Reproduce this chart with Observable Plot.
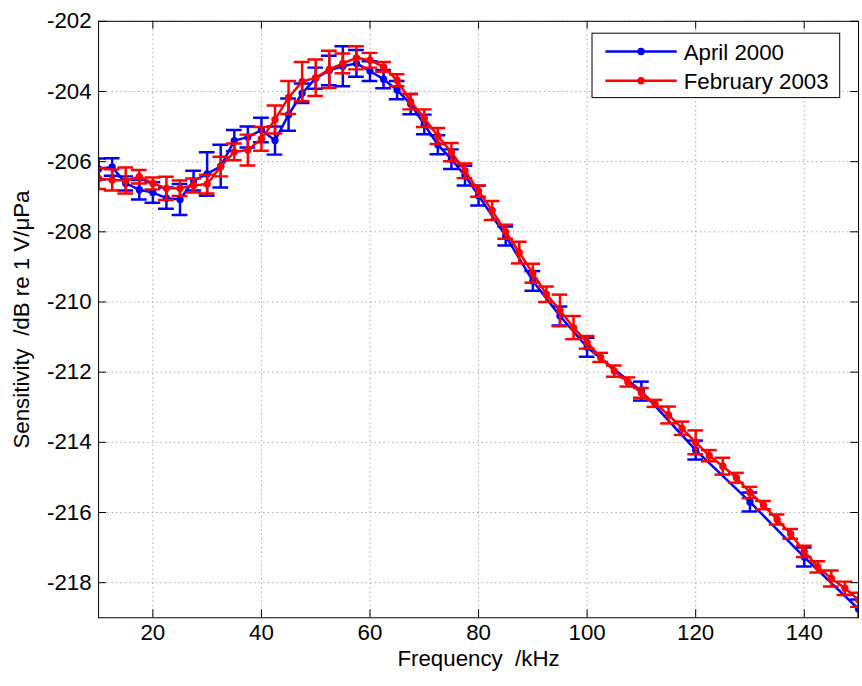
<!DOCTYPE html>
<html><head><meta charset="utf-8">
<script src="https://cdn.jsdelivr.net/npm/d3@7"></script>
<script src="https://cdn.jsdelivr.net/npm/@observablehq/plot@0.6"></script>
<style>
html,body{margin:0;padding:0;background:#fff;overflow:hidden;}
#chart{position:relative;width:862px;height:686px;overflow:hidden;}
#chart svg text{white-space:pre;}
</style></head><body><div id="chart"></div>
<script>
const xTicks = [20, 40, 60, 80, 100, 120, 140];
const yTicks = [-218, -216, -214, -212, -210, -208, -206, -204, -202];

const seriesNames = ["April 2000", "February 2003"];
const seriesColors = ["#0000ff", "#ff0000"];

const freqBlue = [10, 12.5, 15, 17.5, 20, 22.5, 25, 27.5, 30, 32.5, 35, 37.5, 40, 42.5, 45, 47.5, 50, 52.5, 55, 57.5, 60, 62.5, 65, 67.5, 70, 72.5, 75, 77.5, 80, 85, 90, 95, 100, 110, 120, 130, 140, 150];
const blueVals = [-206.21, -206.15, -206.62, -206.8, -206.88, -207.04, -207.08, -206.54, -206.35, -206.13, -205.4, -205.3, -205.1, -205.4, -204.66, -204.05, -203.62, -203.4, -203.28, -203.2, -203.42, -203.65, -203.96, -204.36, -204.94, -205.52, -205.93, -206.4, -206.97, -208.12, -209.4, -210.4, -211.29, -212.54, -214.22, -215.7, -217.27, -218.75];
const blueErr = [0.3, 0.25, 0.2, 0.28, 0.29, 0.3, 0.44, 0.28, 0.62, 0.61, 0.3, 0.3, 0.35, 0.4, 0.46, 0.28, 0.3, 0.42, 0.57, 0.38, 0.28, 0.26, 0.26, 0.29, 0.28, 0.27, 0.28, 0.28, 0.28, 0.27, 0.28, 0.27, 0.27, 0.27, 0.27, 0.27, 0.27, 0.27];

const freqRed = [10, 12.5, 15, 17.5, 20, 22.5, 25, 27.5, 30, 32.5, 35, 37.5, 40, 42.5, 45, 47.5, 50, 52.5, 55, 57.5, 60, 62.5, 65, 67.5, 70, 72.5, 75, 77.5, 80, 82.5, 85, 87.5, 90, 92.5, 95, 97.5, 100, 102.5, 105, 107.5, 110, 112.5, 115, 117.5, 120, 122.5, 125, 127.5, 130, 132.5, 135, 137.5, 140, 142.5, 145, 147.5, 150];
const redVals = [-206.48, -206.52, -206.54, -206.43, -206.62, -206.76, -206.76, -206.68, -206.64, -206.14, -205.72, -205.67, -205.35, -204.8, -204.17, -203.72, -203.61, -203.37, -203.2, -203.04, -203.11, -203.3, -203.68, -204.29, -204.76, -205.27, -205.73, -206.26, -206.84, -207.39, -208.0, -208.59, -209.18, -209.78, -210.24, -210.73, -211.15, -211.58, -211.97, -212.28, -212.59, -212.89, -213.22, -213.6, -214.0, -214.38, -214.68, -215.01, -215.43, -215.79, -216.2, -216.61, -217.11, -217.55, -217.88, -218.16, -218.49];
const redErr = [0.3, 0.3, 0.37, 0.19, 0.17, 0.33, 0.22, 0.2, 0.27, 0.28, 0.24, 0.44, 0.34, 0.4, 0.47, 0.56, 0.52, 0.53, 0.28, 0.33, 0.21, 0.14, 0.17, 0.22, 0.25, 0.23, 0.26, 0.21, 0.16, 0.27, 0.2, 0.31, 0.27, 0.22, 0.45, 0.33, 0.18, 0.13, 0.16, 0.13, 0.14, 0.1, 0.24, 0.19, 0.34, 0.16, 0.24, 0.14, 0.16, 0.12, 0.14, 0.14, 0.16, 0.16, 0.23, 0.19, 0.2];

const FONT = "'Liberation Sans', Arial, Helvetica, sans-serif";
const FS = 22.5;
const W = 870, H = 686, ML = 99, MR = 4, MT = 21, MB = 63;
const innerW = W - ML - MR, innerH = H - MT - MB;
const TICK = 8;
const CAP = 1.45;
const LW = 2.5;

const blue = freqBlue.map((f, i) => ({f, v: blueVals[i], e: blueErr[i]}));
const red = freqRed.map((f, i) => ({f, v: redVals[i], e: redErr[i]}));

function series(data, color) {
  return [
    Plot.ruleX(data, {x: "f", y1: d => d.v - d.e, y2: d => d.v + d.e, stroke: color, strokeWidth: LW, clip: true}),
    Plot.ruleY(data, {y: d => d.v - d.e, x1: d => d.f - CAP, x2: d => d.f + CAP, stroke: color, strokeWidth: LW, clip: true}),
    Plot.ruleY(data, {y: d => d.v + d.e, x1: d => d.f - CAP, x2: d => d.f + CAP, stroke: color, strokeWidth: LW, clip: true}),
    Plot.line(data, {x: "f", y: "v", stroke: color, strokeWidth: LW, clip: true}),
    Plot.dot(data, {x: "f", y: "v", fill: color, stroke: null, r: 3.7, clip: true})
  ];
}

const gridStyle = {stroke: "#a8a8a8", strokeOpacity: 1, strokeWidth: 1, strokeDasharray: "1.5,3"};

const chart = Plot.plot({
  width: W, height: H,
  marginLeft: ML, marginRight: MR, marginTop: MT, marginBottom: MB,
  style: {fontFamily: FONT, fontSize: FS + "px", background: "white", color: "black"},
  x: {domain: [10, 150]},
  y: {domain: [-219, -202]},
  marks: [
    Plot.gridX(xTicks, gridStyle),
    Plot.gridY(yTicks, gridStyle),
    ...series(blue, seriesColors[0]),
    ...series(red, seriesColors[1]),
    Plot.tickY(yTicks, {y: d => d, insetRight: innerW - TICK, stroke: "black"}),
    Plot.tickY(yTicks, {y: d => d, insetLeft: innerW - TICK, stroke: "black"}),
    Plot.tickX(xTicks, {x: d => d, insetTop: innerH - TICK, stroke: "black"}),
    Plot.tickX(xTicks, {x: d => d, insetBottom: innerH - TICK, stroke: "black"}),
    Plot.frame({stroke: "black", strokeWidth: 1}),
    Plot.axisY(yTicks, {tickSize: 0, tickPadding: 7, tickFormat: d => String(d), fontSize: FS, label: null, fill: "black"}),
    Plot.axisX(xTicks, {tickSize: 0, tickPadding: 6, tickFormat: d => String(d), fontSize: FS, label: null, fill: "black"}),
    Plot.text(["Frequency  /kHz"], {text: d => d, frameAnchor: "bottom", dy: 49, textAnchor: "middle", fontSize: FS, fill: "black"}),
    Plot.text(["Sensitivity  /dB re 1 V/\u03bcPa"], {text: d => d, frameAnchor: "left", dx: -77, rotate: -90, textAnchor: "middle", fontSize: FS, fill: "black"})
  ]
});

document.getElementById("chart").appendChild(chart);

// Legend inside the plot area (upper right)
const svg = d3.select(chart);
const lg = svg.append("g").attr("font-family", FONT).attr("font-size", FS).attr("text-anchor", "start");
lg.append("rect").attr("x", 597.5).attr("y", 33.5).attr("width", 250).attr("height", 65)
  .attr("fill", "white").attr("stroke", "black").attr("stroke-width", 1);
seriesNames.forEach((name, i) => {
  const cy = 52 + i * 29.5;
  lg.append("line").attr("x1", 611).attr("x2", 683).attr("y1", cy).attr("y2", cy)
    .attr("stroke", seriesColors[i]).attr("stroke-width", LW);
  lg.append("circle").attr("cx", 647).attr("cy", cy).attr("r", 3.7).attr("fill", seriesColors[i]);
  lg.append("text").attr("x", 690).attr("y", cy).attr("dy", "0.36em").attr("fill", "black").text(name);
});
</script>
</body></html>
